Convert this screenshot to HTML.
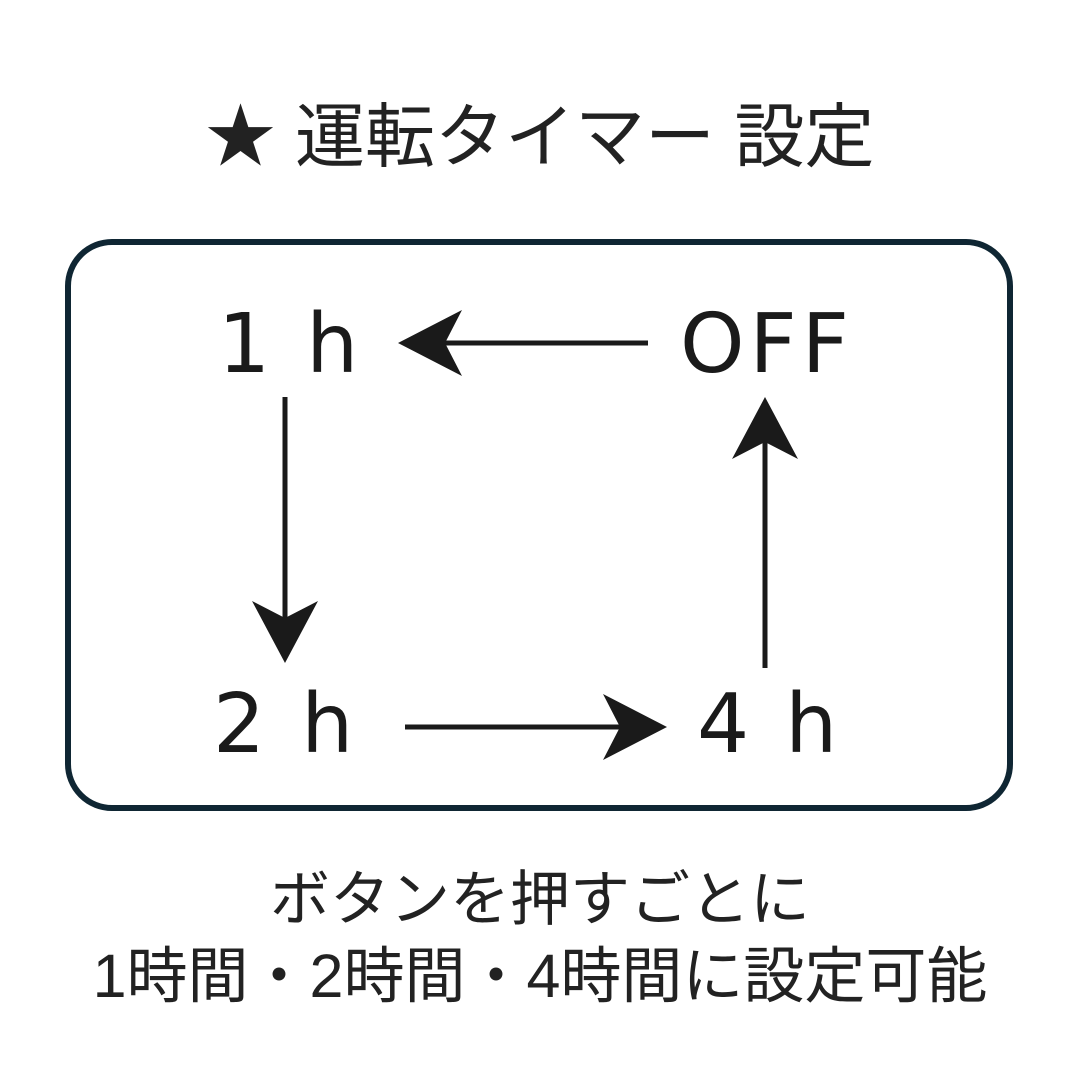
<!DOCTYPE html>
<html><head><meta charset="utf-8"><style>
body{margin:0;background:#fff;}
.wrap{position:relative;width:1080px;height:1080px;overflow:hidden;}
.t{position:absolute;left:0;width:1080px;text-align:center;font-family:"Liberation Sans","Noto Sans CJK JP",sans-serif;color:#222;}
</style></head><body><div class="wrap">
<div class="t" style="top:92px;font-size:70px;line-height:90px;">★ 運転タイマー 設定</div>
<svg width="1080" height="1080" style="position:absolute;left:0;top:0">
<rect x="68" y="242" width="942" height="566" rx="44" fill="none" stroke="#0f2633" stroke-width="6"/>
<g font-family="DejaVu Sans, sans-serif" font-size="82" fill="#1a1a1a" letter-spacing="5">
<text x="218" y="372">1 h</text>
<text x="680" y="372">OFF</text>
<text x="213" y="752">2 h</text>
<text x="697" y="752">4 h</text>
</g>
<g stroke="#1a1a1a" stroke-width="5" fill="#1a1a1a">
<line x1="648" y1="343" x2="430" y2="343"/>
<line x1="285" y1="397" x2="285" y2="630"/>
<line x1="405" y1="727" x2="635" y2="727"/>
<line x1="765" y1="668" x2="765" y2="430"/>
</g>
<g fill="#1a1a1a">
<path d="M398 343 L462 310 L445 343 L462 376 Z"/>
<path d="M285 663 L252 601 L285 618 L318 601 Z"/>
<path d="M667 727 L603 694 L620 727 L603 760 Z"/>
<path d="M765 397 L732 459 L765 442 L798 459 Z"/>
</g>
</svg>
<div class="t" style="top:862px;font-size:60px;line-height:76px;">ボタンを押すごとに</div>
<div class="t" style="top:938px;font-size:61px;line-height:76px;">1時間・2時間・4時間に設定可能</div>
</div></body></html>
